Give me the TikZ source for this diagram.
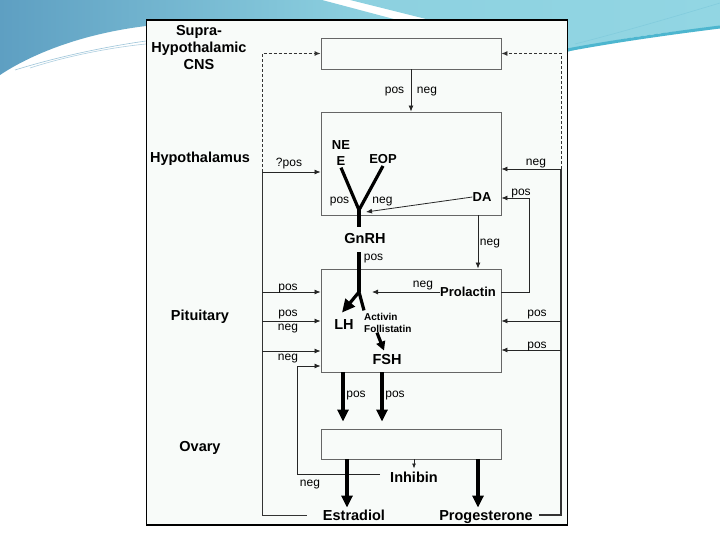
\documentclass[tikz,border=0pt]{standalone}
\usepackage{fontspec}
\setmainfont{Liberation Sans}
\usetikzlibrary{arrows.meta}
\definecolor{skyA}{HTML}{5E9FC2}
\definecolor{skyB}{HTML}{92D6E3}
\definecolor{skyC}{HTML}{4DB6CF}
\definecolor{boxgray}{HTML}{666666}
\definecolor{paper}{HTML}{F8FBF9}

\begin{document}
\begin{tikzpicture}[x=1pt,y=-1pt,
  organ/.style={draw=boxgray,fill=paper,line width=0.9pt,minimum width=180pt,inner sep=0pt},
  lbl/.style={inner sep=0pt,text height=6.5pt,text depth=0pt,font=\fontsize{12}{14}\selectfont},
  big/.style={inner sep=0pt,text height=10.5pt,text depth=0pt,font=\fontsize{14.5}{17}\selectfont\bfseries},
  mid/.style={inner sep=0pt,text height=9.5pt,text depth=0pt,font=\fontsize{13}{16}\selectfont\bfseries},
  sml/.style={inner sep=0pt,font=\fontsize{10}{11.5}\selectfont\bfseries},
  fb/.style={draw=black!85,line width=0.8pt,-{Latex[length=6pt,width=5pt]}},
  fat/.style={line width=3.2pt},
  fatarrow/.style={fat,-{Triangle[length=12pt,width=11pt]}},
  rail/.style={draw=black!80,line width=0.9pt},
  dots/.style={dash pattern=on 3pt off 2pt}]
\useasboundingbox (0,0) rectangle (720,540);
% slide background:
\fill[white] (0,0) rectangle (720,540);
\shade[left color=skyA,right color=skyB] (0,0) -- (322,0) -- (405,22) -- (146,26)
  .. controls (80,34) and (30,55) .. (0,75) -- cycle;
\shade[left color=skyB!90!skyA,right color=skyB] (350,0) -- (720,0) -- (720,28)
  .. controls (660,31) and (600,42) .. (567,52) .. controls (520,60) and (460,30) .. (430,20) -- cycle;
\draw[skyC,line width=3pt] (567,50) .. controls (620,40) and (680,32) .. (720,27);
\draw[skyC!70!white,line width=0.6pt] (575,44) .. controls (630,30) and (690,12) .. (720,3);
\draw[skyA!60!white,line width=0.6pt] (15,70) .. controls (60,56) and (110,46) .. (146,41);
\draw[skyA!50!white,line width=0.6pt] (30,68) .. controls (70,55) and (115,47) .. (146,44);
% frame:
\path[draw=black,fill=paper,line width=1.3pt] (146.5,20) rectangle (567.5,525);

% organs
\node[organ,minimum height=31pt] (cns) at (411,53.5) {};
\node[organ,minimum height=103pt] (hyp) at (411,163.5) {};
\node[organ,minimum height=103pt] (pit) at (411,320.5) {};
\node[organ,minimum height=30pt] (ova) at (411,444) {};

\node[big,align=center,text height=,text depth=] (supra) at (199,48) {Supra-\\Hypothalamic\\CNS};
\node[big] (hypname) at (200,157) {Hypothalamus};
\node[big] (pitname) at (200,315) {Pituitary};
\node[big] (ovaname) at (200,446) {Ovary};

% hormones
\node[mid,align=center,text height=,text depth=] (ne) at (341,153) {NE\\E};
\node[mid] (eop) at (383,159) {EOP};
\node[mid] (da) at (482,197) {DA};
\node[big] (gnrh) at (365,238) {GnRH};
\node[big] (lh) at (344,324) {LH};
\node[sml,align=left,anchor=west] (act) at (364,323) {Activin\\Follistatin};
\node[big] (fsh) at (387,359) {FSH};
\node[mid] (prl) at (468,292) {Prolactin};
\node[big] (inh) at (414,477) {Inhibin};
\node[big] (est) at (354,515) {Estradiol};
\node[big] (prog) at (486,515) {Progesterone};

% turning points
\coordinate (lq) at (262,172);
\coordinate (lp) at (262,292);
\coordinate (lpn) at (262,321);
\coordinate (ln) at (262,351);
\coordinate (lbot) at (262,515);
\coordinate (rn) at (561,169);
\coordinate (rp1) at (561,321);
\coordinate (rp2) at (561,350);
\coordinate (rbot) at (561,515);
\coordinate (plc) at (529,292);
\coordinate (pup) at (529,198);
\coordinate (dax) at (478,215);
\coordinate (inl) at (297,474);
\coordinate (inu) at (297,366);
\coordinate (vtip) at (359,210);
\coordinate (vbase) at (359,227);
\coordinate (gstem) at (359,252);
\coordinate (fork) at (359,292);
\coordinate (col0) at (343,372);
\coordinate (col1) at (347,459);
\coordinate (col2) at (382,372);

% feedback from estradiol
\draw[rail] ([xshift=-16pt]est.west) -- (lbot) -- (lq);
\draw[rail,dots,-{Latex[length=6pt,width=5pt]}] (lq) |- (cns.west);
\draw[fb] (lq) -- (lq -| hyp.west);
\draw[fb] (lp) -- (lp -| pit.west);
\draw[fb] (lpn) -- (lpn -| pit.west);
\draw[fb] (ln) -- (ln -| pit.west);
% feedback from progesterone
\draw[rail,line width=1.6pt] ([xshift=6pt]prog.east) -- (rbot) -- (rn);
\draw[rail,dots,-{Latex[length=6pt,width=5pt]}] (rn) |- (cns.east);
\draw[fb] (rn) -- (rn -| hyp.east);
\draw[fb] (rp1) -- (rp1 -| pit.east);
\draw[fb] (rp2) -- (rp2 -| pit.east);
% prolactin loop, DA, inhibin
\draw[fb] (pit.east |- plc) -- (plc) -- (pup) -- (pup -| hyp.east);
\draw[fb] (hyp.south -| dax) -- (pit.north -| dax);
\draw[fb] ([xshift=-10pt]inh.west |- inl) -- (inl) -- (inu) -- (inu -| pit.west);
\draw[fb] (cns.south) -- (hyp.north);

% hypothalamus
\draw[fat] ([yshift=-2pt]ne.south) -- (vtip);
\draw[fat] ([yshift=-2pt]eop.south) -- (vtip);
\draw[fat] (vtip) -- (vbase);
\draw[fb] (da.west) -- ([shift={(7,2)}]vtip);
% pituitary
\draw[fat] (gstem) -- (fork);
\draw[fatarrow,-{Triangle[length=13pt,width=12pt]}] (fork) -- ([shift={(-2,-6)}]lh.north);
\draw[fat] (fork) -- ([yshift=3pt]act.north west);
\draw[fatarrow,-{Triangle[length=9pt,width=9pt]}] ([xshift=13pt]act.south west) -- ([xshift=-3pt,yshift=3pt]fsh.north);
\draw[fb] (prl.west) -- ([xshift=13pt]fork);
% ovary
\draw[fatarrow,shorten >=7pt] (pit.south -| col0) -- (ova.north -| col0);
\draw[fatarrow,shorten >=7pt] (pit.south -| col2) -- (ova.north -| col2);
\draw[fatarrow] (col1) -- ([yshift=2pt]col1 |- est.north);
\draw[fatarrow] (ova.south -| dax) -- ([yshift=2pt]dax |- prog.north);
\draw[fb,-{Latex[length=5pt,width=4pt]},shorten >=3pt] (ova.south -| inh) -- (inh.north);

% labels
\node[lbl] (l1) at (394.5,90) {pos};
\node[lbl] (l2) at (427,90) {neg};
\node[lbl] (l3) at (289,163) {?pos};
\node[lbl] (l4) at (536,162) {neg};
\node[lbl] (l5) at (521,192) {pos};
\node[lbl] (l6) at (339.5,200) {pos};
\node[lbl] (l7) at (382.5,200) {neg};
\node[lbl] (l8) at (490,242) {neg};
\node[lbl] (l9) at (373.5,257) {pos};
\node[lbl] (l10) at (423,284) {neg};
\node[lbl] (l11) at (288,287) {pos};
\node[lbl] (l12) at (288,313) {pos};
\node[lbl] (l13) at (288,327) {neg};
\node[lbl] (l14) at (288,357) {neg};
\node[lbl] (l15) at (537,313) {pos};
\node[lbl] (l16) at (537,345) {pos};
\node[lbl] (l17) at (356,394) {pos};
\node[lbl] (l18) at (395,394) {pos};
\node[lbl] (l19) at (310,483) {neg};
\end{tikzpicture}
\end{document}
